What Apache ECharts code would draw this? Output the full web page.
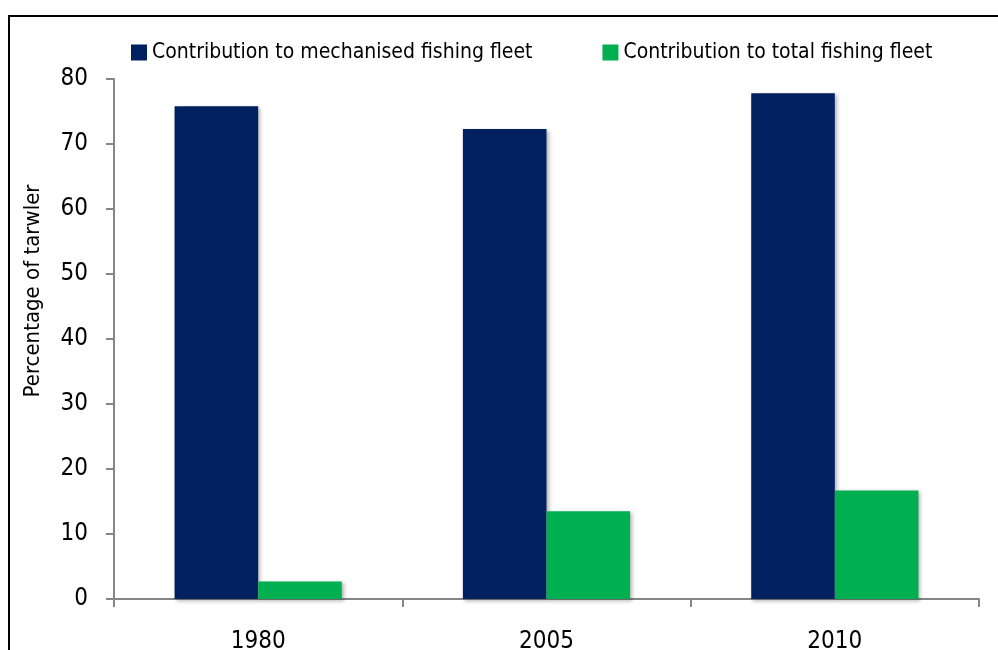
<!DOCTYPE html>
<html>
<head>
    <meta charset="UTF-8">
    <title>Trawler share</title>
    <script src="https://cdn.jsdelivr.net/npm/echarts@6/dist/echarts.min.js"></script>
    <style>
        html, body { margin: 0; padding: 0; background: #fff; }
        #main { width: 998px; height: 650px; }
    </style>
</head>
<body>
<div id="main"></div>
<script>
    // data
    var years = ['1980', '2005', '2010'];
    var mechanised = [75.8, 72.3, 77.8];
    var totalFleet = [2.7, 13.5, 16.7];
    var seriesNames = ['Contribution to mechanised fishing fleet', 'Contribution to total fishing fleet'];

    var font = '"Liberation Sans Narrow", "DejaVu Sans Condensed", "Roboto", sans-serif';
    var axisGray = '#868686';
    var barShadow = {
        shadowBlur: 4,
        shadowColor: 'rgba(0,0,0,0.3)',
        shadowOffsetX: 2,
        shadowOffsetY: 2
    };

    var myChart = echarts.init(document.getElementById('main'));
    var option = {
        animation: false,
        textStyle: { fontFamily: font },
        graphic: [{
            type: 'rect',
            shape: { x: 9, y: 16, width: 1010, height: 660 },
            style: { fill: 'none', stroke: '#000', lineWidth: 2 },
            silent: true
        }],
        legend: {
            top: 37,
            left: 126,
            itemWidth: 16,
            itemHeight: 16,
            itemGap: 70,
            icon: 'rect',
            textStyle: { fontSize: 21, color: '#000', fontFamily: font },
            data: seriesNames
        },
        grid: { left: 114, right: 19, top: 79, bottom: 51, containLabel: false, outerBoundsMode: 'none' },
        xAxis: {
            type: 'category',
            data: years,
            boundaryGap: true,
            axisLine: { lineStyle: { color: axisGray, width: 2 } },
            axisTick: { show: true, length: 8, lineStyle: { color: axisGray, width: 2 } },
            axisLabel: { color: '#000', fontSize: 24, margin: 31, fontFamily: font }
        },
        yAxis: {
            type: 'value',
            min: 0,
            max: 80,
            interval: 10,
            name: 'Percentage of tarwler',
            nameLocation: 'middle',
            nameRotate: 90,
            nameGap: 70,
            nameTextStyle: { fontSize: 22, color: '#000', fontFamily: font, padding: [0, 0, 0, 96] },
            axisLine: { show: true, lineStyle: { color: axisGray, width: 2 } },
            axisTick: { show: true, length: 8, lineStyle: { color: axisGray, width: 2 } },
            splitLine: { show: false },
            axisLabel: { color: '#000', fontSize: 24, margin: 26, fontFamily: font }
        },
        series: [{
            name: seriesNames[0],
            type: 'bar',
            data: mechanised,
            barGap: '0%',
            barCategoryGap: '42%',
            itemStyle: Object.assign({ color: '#002060' }, barShadow)
        }, {
            name: seriesNames[1],
            type: 'bar',
            data: totalFleet,
            barGap: '0%',
            barCategoryGap: '42%',
            itemStyle: Object.assign({ color: '#00B050' }, barShadow)
        }]
    };
    myChart.setOption(option);
</script>
</body>
</html>
